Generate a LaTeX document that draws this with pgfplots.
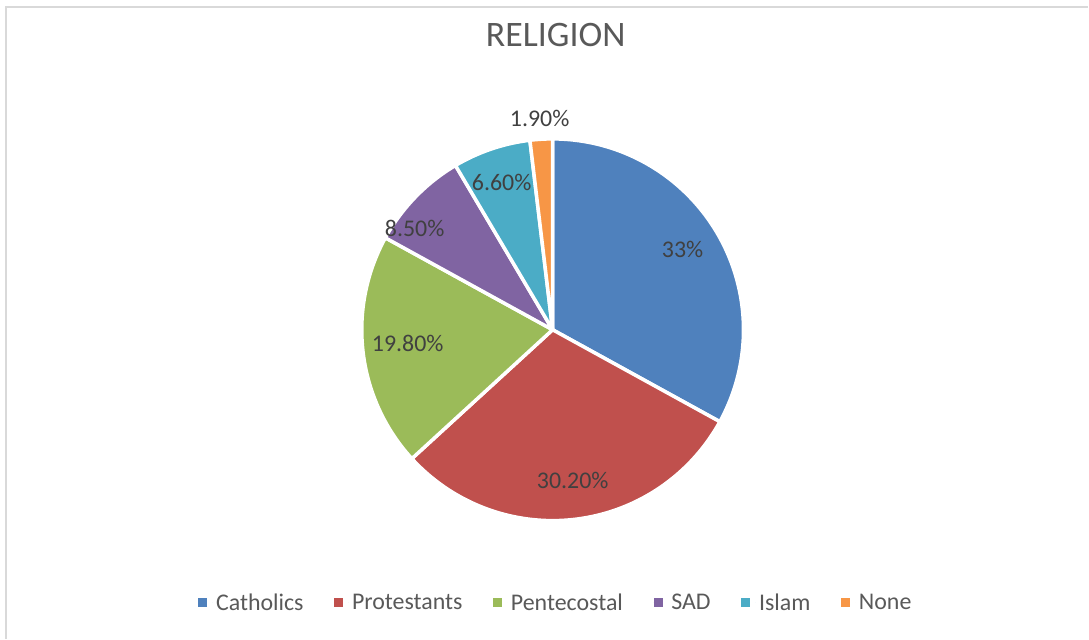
\documentclass[border=0pt]{standalone}
\usepackage{pgfplots}
\pgfplotsset{compat=1.18}
\usepackage{fontspec}
\setmainfont{Carlito}
\definecolor{cCat}{HTML}{4F81BD}
\definecolor{cPro}{HTML}{C0504D}
\definecolor{cPen}{HTML}{9BBB59}
\definecolor{cSad}{HTML}{8064A2}
\definecolor{cIsl}{HTML}{4BACC6}
\definecolor{cNon}{HTML}{F79646}
\definecolor{titlegray}{HTML}{595959}
\definecolor{labelgray}{HTML}{404040}
\definecolor{framegray}{HTML}{D9D9D9}
% shares in percent
\def\vCat{33}
\def\vPro{30.2}
\def\vPen{19.8}
\def\vSad{8.5}
\def\vIsl{6.6}
\def\vNon{1.9}
\begin{document}
\begin{tikzpicture}
\pgfmathsetmacro\aA{90}
\pgfmathsetmacro\aB{\aA-3.6*\vCat}
\pgfmathsetmacro\aC{\aB-3.6*\vPro}
\pgfmathsetmacro\aD{\aC-3.6*\vPen}
\pgfmathsetmacro\aE{\aD-3.6*\vSad}
\pgfmathsetmacro\aF{\aE-3.6*\vIsl}
\pgfmathsetmacro\aG{\aF-3.6*\vNon}
\begin{axis}[
  x=191bp, y=191bp,
  xmin=-2.8953, xmax=2.8063, ymin=-1.6178, ymax=1.7277,
  hide axis, clip=false,
  legend columns=6,
  legend style={at={(axis description cs:0.51,0.0563)}, anchor=center,
    draw=none, fill=none, font=\fontsize{24}{28}\selectfont, text=titlegray,
    /tikz/every even column/.append style={column sep=27bp}},
  legend image code/.code={\path (0bp,0bp) -- (14bp,0bp); \fill[#1,draw=none] (0bp,-4.5bp) rectangle (9bp,4.5bp);},
]
\path (rel axis cs:0,0) rectangle (rel axis cs:1,1);
\draw[framegray, line width=1.5bp] (axis description cs:0.00551,0) -- (axis description cs:0.00551,0.98905) -- (axis description cs:1,0.98905);

\addplot[fill=cCat, draw=white, line width=3.5bp, line join=round, domain=\aB:\aA, samples=120, variable=\t] ({cos(\t)},{sin(\t)}) -- (axis cs:0,0) -- cycle;
\addlegendentry{Catholics}
\addplot[fill=cPro, draw=white, line width=3.5bp, line join=round, domain=\aC:\aB, samples=120, variable=\t] ({cos(\t)},{sin(\t)}) -- (axis cs:0,0) -- cycle;
\addlegendentry{Protestants}
\addplot[fill=cPen, draw=white, line width=3.5bp, line join=round, domain=\aD:\aC, samples=80, variable=\t] ({cos(\t)},{sin(\t)}) -- (axis cs:0,0) -- cycle;
\addlegendentry{Pentecostal}
\addplot[fill=cSad, draw=white, line width=3.5bp, line join=round, domain=\aE:\aD, samples=40, variable=\t] ({cos(\t)},{sin(\t)}) -- (axis cs:0,0) -- cycle;
\addlegendentry{SAD}
\addplot[fill=cIsl, draw=white, line width=3.5bp, line join=round, domain=\aF:\aE, samples=40, variable=\t] ({cos(\t)},{sin(\t)}) -- (axis cs:0,0) -- cycle;
\addlegendentry{Islam}
\addplot[fill=cNon, draw=white, line width=3.5bp, line join=round, domain=\aG:\aF, samples=20, variable=\t] ({cos(\t)},{sin(\t)}) -- (axis cs:0,0) -- cycle;
\addlegendentry{None}

\node[text=titlegray, font=\fontsize{36}{40}\selectfont] at (axis cs:0.016,1.5445) {RELIGION};
\begin{scope}[every node/.style={text=labelgray, font=\fontsize{24}{28}\selectfont}]
\node at (axis cs:0.681,0.419) {33\%};
\node at (axis cs:0.105,-0.791) {30.20\%};
\node at (axis cs:-0.759,-0.073) {19.80\%};
\node at (axis cs:-0.723,0.529) {8.50\%};
\node at (axis cs:-0.267,0.770) {6.60\%};
\node at (axis cs:-0.068,1.105) {1.90\%};
\end{scope}
\end{axis}
\end{tikzpicture}
\end{document}
